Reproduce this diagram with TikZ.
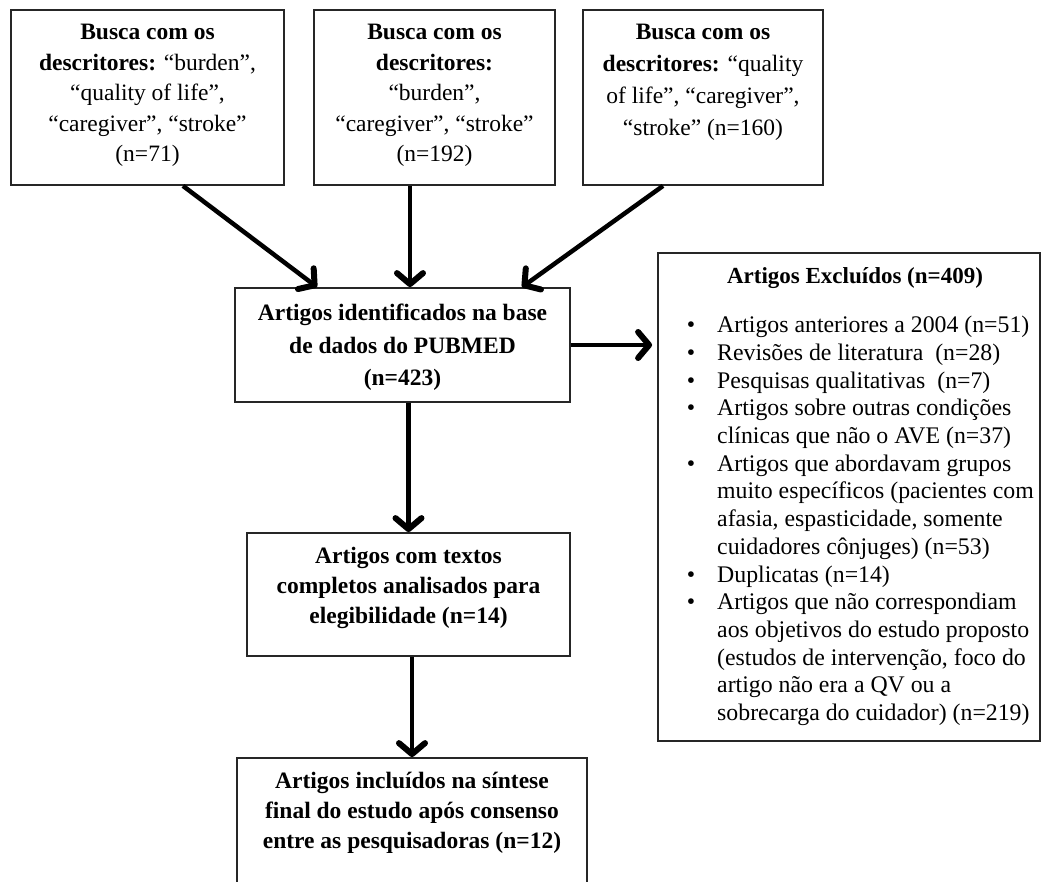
\documentclass[tikz,border=0pt]{standalone}
\usepackage{fontspec}
\setmainfont{Liberation Serif}
\usetikzlibrary{arrows.meta,calc}
\tikzset{
  boxnode/.style={draw=black!85, line width=1.8pt, inner sep=0pt, rectangle},
  txt/.style={align=center, inner sep=0pt, anchor=north},
  arr/.style={line width=4.5pt, -{Straight Barb[length=11pt,width=26pt,line width=6pt,round]}},
}
\begin{document}
\begin{tikzpicture}[x=1pt,y=-1pt]
\clip (0,0) rectangle (1045,882);
\fill[white] (0,0) rectangle (1045,882);
% top boxes
\node[boxnode, minimum width=273pt, minimum height=175pt] (b1) at (147.5,97.5) {};
\node[boxnode, minimum width=241pt, minimum height=175pt] (b2) at (434.5,97.5) {};
\node[boxnode, minimum width=240pt, minimum height=175pt] (b3) at (703,97.5) {};
\node[txt, font=\fontsize{23.5}{30.5}\selectfont] (b1t) at (147.5,24)
  {\textbf{Busca com os}\\\textbf{descritores:} “burden”,\\“quality of life”,\\“caregiver”, “stroke”\\(n=71)};
\node[txt, font=\fontsize{23.5}{30.5}\selectfont] (b2t) at (434.5,24)
  {\textbf{Busca com os}\\\textbf{descritores:}\\“burden”,\\“caregiver”, “stroke”\\(n=192)};
\node[txt, font=\fontsize{23.5}{32}\selectfont] (b3t) at (703,24)
  {\textbf{Busca com os}\\\textbf{descritores:} “quality\\of life”, “caregiver”,\\“stroke” (n=160)};
% PUBMED
\node[boxnode, minimum width=335pt, minimum height=114pt] (pub) at (402.5,345) {};
\node[txt, font=\bfseries\fontsize{23.5}{32.5}\selectfont] (pubt) at (402.5,304)
  {Artigos identificados na base\\de dados do PUBMED\\(n=423)};
% excluded
\node[boxnode, minimum width=382pt, minimum height=488pt] (exc) at (849,497) {};
\node[txt, font=\bfseries\fontsize{23}{27.7}\selectfont] (exch) at (855,267)
  {Artigos Excluídos (n=409)};
\node[inner sep=0pt, anchor=north west, align=left, font=\fontsize{23.8}{27.7}\selectfont] (excl) at (717,316)
  {\llap{•\hspace{22pt}}Artigos anteriores a 2004 (n=51)\\
   \llap{•\hspace{22pt}}Revisões de literatura\ \ (n=28)\\
   \llap{•\hspace{22pt}}Pesquisas qualitativas\ \ (n=7)\\
   \llap{•\hspace{22pt}}Artigos sobre outras condições\\
   clínicas que não o AVE (n=37)\\
   \llap{•\hspace{22pt}}Artigos que abordavam grupos\\
   muito específicos (pacientes com\\
   afasia, espasticidade, somente\\
   cuidadores cônjuges) (n=53)\\
   \llap{•\hspace{22pt}}Duplicatas (n=14)\\
   \llap{•\hspace{22pt}}Artigos que não correspondiam\\
   aos objetivos do estudo proposto\\
   (estudos de intervenção, foco do\\
   artigo não era a QV ou a\\
   sobrecarga do cuidador) (n=219)};
% full texts
\node[boxnode, minimum width=323pt, minimum height=123pt] (comp) at (408.5,594.5) {};
\node[txt, font=\bfseries\fontsize{23.5}{30}\selectfont] (compt) at (408.5,547)
  {Artigos com textos\\completos analisados para\\elegibilidade (n=14)};
% included
\node[boxnode, minimum width=350pt, minimum height=150pt] (bot) at (412,833) {};
\node[txt, font=\bfseries\fontsize{23.5}{30}\selectfont] (bott) at (412,772)
  {Artigos incluídos na síntese\\final do estudo após consenso\\entre as pesquisadoras (n=12)};
% arrows
\draw[arr] ([xshift=35.5pt]b1.south) -- ([xshift=-85.5pt]pub.north);
\draw[arr] ([xshift=-24.5pt]b2.south) -- ([xshift=7.5pt]pub.north);
\draw[arr] ([xshift=-40pt]b3.south) -- ([xshift=119.5pt]pub.north);
\draw[arr, shorten >=5pt] (pub.east) -- (pub.east -| exc.west);
\draw[arr] (comp.north |- pub.south) -- (comp.north);
\draw[arr] (bot.north |- comp.south) -- (bot.north);
\end{tikzpicture}
\end{document}
